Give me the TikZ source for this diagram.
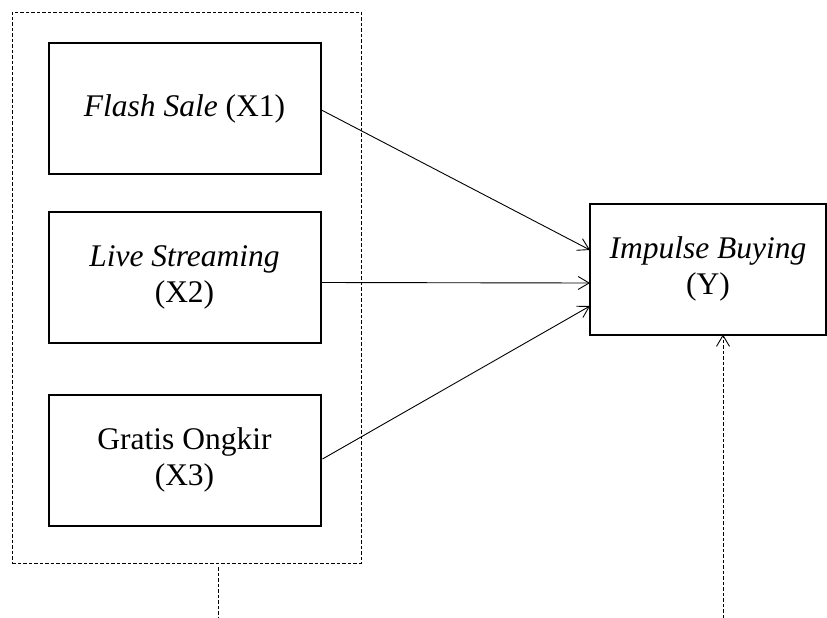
\documentclass[tikz,border=0pt]{standalone}
\usepackage{fontspec}
\setmainfont{Liberation Serif}
\usetikzlibrary{arrows.meta}
\begin{document}
\begin{tikzpicture}[x=1pt,y=-1pt,
  varbox/.style={draw,line width=2pt,minimum width=272pt,minimum height=131pt,
    inner sep=0pt,outer sep=0pt,align=center,font=\fontsize{31.5}{36}\selectfont},
  link/.style={line width=0.9pt,-{Straight Barb[length=11pt,width=13pt]}},
  dashline/.style={line width=0.9pt,dash pattern=on 3.5pt off 2pt}]
\useasboundingbox (0,0) rectangle (827,618);
% independent variables, grouped in a dashed frame
\node[draw,dashline,minimum width=349pt,minimum height=551pt,inner sep=0pt] (group) at (186.5,287.5) {};
\node[varbox] (x1) at (184.5,108.5) {\textit{Flash Sale} (X1)};
\node[varbox] (x2) at (184.5,277.5) {\textit{Live Streaming}\\(X2)};
\node[varbox] (x3) at (184.5,460) {Gratis Ongkir\\(X3)};
% dependent variable
\node[varbox,minimum width=236pt] (y) at (708,269) {\textit{Impulse Buying}\\(Y)};
% paths to the dependent variable
\draw[link] ([yshift=-1pt]x1.east) -- ([yshift=19pt]y.west);
\draw[link] ([yshift=-5pt]x2.east) -- ([yshift=-14pt]y.west);
\draw[link] ([yshift=1pt,xshift=2pt]x3.east) -- ([yshift=-37pt]y.west);
% dashed leads at the bottom
\coordinate (gfoot) at (218,567);
\coordinate (gend) at (218,618);
\draw[dashline] (gfoot) -- (gend);
\coordinate (yfoot) at (723,618);
\draw[dashline,-{Straight Barb[length=11pt,width=13pt]}] (yfoot) -- (yfoot |- y.south);
\end{tikzpicture}
\end{document}
